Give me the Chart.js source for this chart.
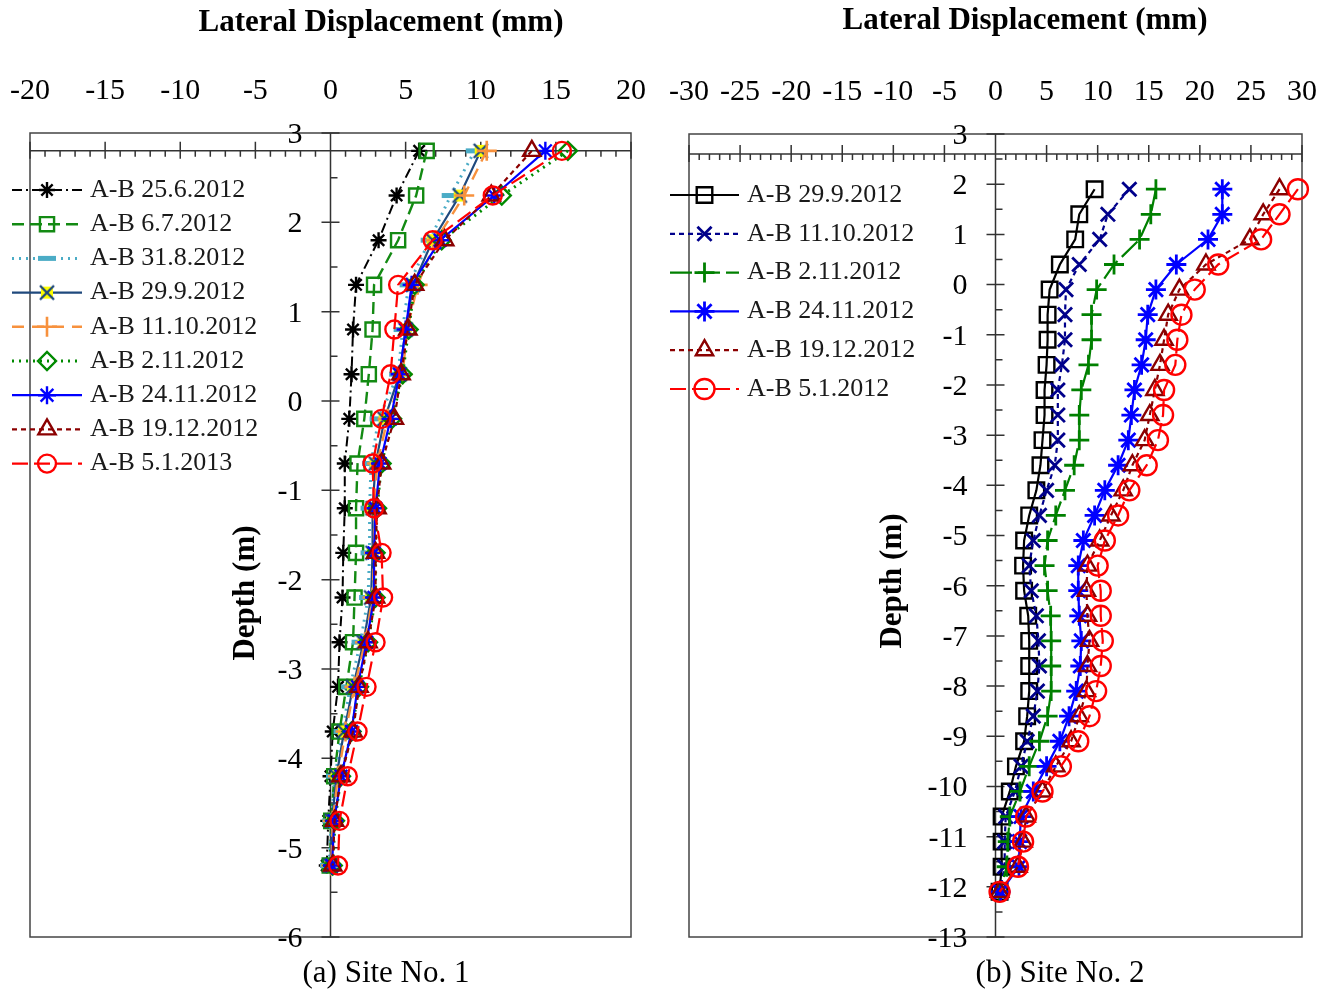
<!DOCTYPE html>
<html>
<head>
<meta charset="utf-8">
<title>Lateral Displacement</title>
<script src="https://cdn.jsdelivr.net/npm/chart.js@4.4.1/dist/chart.umd.min.js"></script>
<style>
    body { margin: 0; background: #fff; }
    #site1 { position: absolute; left: 0; top: 0; }
    #site2 { position: absolute; left: 660px; top: 0; }
</style>
</head>
<body>
<canvas id="site1" width="660" height="991"></canvas>
<canvas id="site2" width="675" height="991"></canvas>
<script>
// Site No. 1 - depth (m) of each reading
const depths1 = [2.8, 2.3, 1.8, 1.3, 0.8, 0.3, -0.2, -0.7, -1.2, -1.7, -2.2, -2.7, -3.2, -3.7, -4.2, -4.7, -5.2];
const labels1 = ['A-B 25.6.2012', 'A-B 6.7.2012', 'A-B 31.8.2012', 'A-B 29.9.2012', 'A-B 11.10.2012',
                 'A-B 2.11.2012', 'A-B 24.11.2012', 'A-B 19.12.2012', 'A-B 5.1.2013'];
// lateral displacement (mm)
const s1_25jun = [5.9, 4.4, 3.2, 1.7, 1.5, 1.4, 1.25, 0.95, 0.95, 0.85, 0.8, 0.6, 0.5, 0.15, 0.0, -0.15, -0.25];
const s1_6jul  = [6.4, 5.7, 4.5, 2.9, 2.8, 2.55, 2.25, 1.8, 1.7, 1.7, 1.6, 1.5, 1.05, 0.6, 0.25, 0.05, -0.05];
const s1_31aug = [9.6, 8.0, 6.6, 5.2, 4.8, 4.5, 3.2, 2.7, 2.6, 2.6, 2.5, 2.0, 1.3, 0.8, 0.3, 0.05, -0.1];
const s1_29sep = [10.0, 8.6, 6.8, 5.5, 5.0, 4.6, 3.6, 3.0, 2.8, 2.8, 2.7, 2.2, 1.5, 0.9, 0.4, 0.1, 0.0];
const s1_11oct = [10.4, 8.9, 7.0, 5.8, 5.1, 4.8, 3.8, 3.1, 2.9, 2.9, 2.8, 2.3, 1.6, 1.0, 0.5, 0.15, 0.05];
const s1_2nov  = [15.8, 11.4, 7.4, 5.6, 5.2, 4.8, 4.1, 3.4, 3.1, 3.0, 3.0, 2.5, 1.9, 1.4, 0.7, 0.3, 0.15];
const s1_24nov = [14.3, 10.9, 7.3, 5.4, 5.0, 4.6, 4.0, 3.3, 3.0, 2.9, 2.9, 2.4, 1.8, 1.4, 0.7, 0.25, 0.1];
const s1_19dec = [13.4, 10.7, 7.6, 5.6, 5.15, 4.7, 4.25, 3.4, 3.1, 3.0, 3.0, 2.5, 1.9, 1.5, 0.7, 0.27, 0.15];
const s1_5jan  = [15.4, 10.8, 6.8, 4.5, 4.25, 4.0, 3.4, 2.8, 2.9, 3.4, 3.5, 3.0, 2.4, 1.8, 1.15, 0.6, 0.5];

// Site No. 2
const depths2 = [1.9, 1.4, 0.9, 0.4, -0.1, -0.6, -1.1, -1.6, -2.1, -2.6, -3.1, -3.6, -4.1, -4.6, -5.1,
                 -5.6, -6.1, -6.6, -7.1, -7.6, -8.1, -8.6, -9.1, -9.6, -10.1, -10.6, -11.1, -11.6, -12.1];
const labels2 = ['A-B 29.9.2012', 'A-B 11.10.2012', 'A-B 2.11.2012', 'A-B 24.11.2012', 'A-B 19.12.2012', 'A-B 5.1.2012'];
const s2_29sep = [9.7, 8.2, 7.8, 6.3, 5.3, 5.1, 5.1, 5.0, 4.8, 4.8, 4.6, 4.4, 4.0, 3.3, 2.8,
                  2.7, 2.8, 3.2, 3.3, 3.3, 3.3, 3.1, 2.8, 2.0, 1.4, 0.6, 0.6, 0.6, 0.4];
const s2_11oct = [13.1, 11.0, 10.2, 8.2, 6.9, 6.8, 6.8, 6.5, 6.1, 6.1, 6.1, 5.8, 5.0, 4.3, 3.7,
                  3.3, 3.5, 4.0, 4.2, 4.3, 4.1, 3.7, 3.1, 2.5, 1.9, 1.0, 0.9, 0.9, 0.4];
const s2_2nov  = [15.7, 15.2, 14.1, 11.6, 9.9, 9.4, 9.4, 9.1, 8.4, 8.2, 8.2, 7.7, 6.8, 5.9, 5.1,
                  4.8, 5.1, 5.4, 5.45, 5.45, 5.45, 5.1, 4.3, 3.3, 2.4, 1.4, 1.2, 1.1, 0.4];
const s2_24nov = [22.2, 22.2, 20.8, 17.7, 15.7, 14.9, 14.7, 14.3, 13.6, 13.3, 13.0, 12.0, 10.7, 9.7, 8.6,
                  8.1, 8.1, 8.2, 8.4, 8.3, 7.9, 7.2, 6.3, 5.0, 3.7, 2.5, 2.35, 2.3, 0.5];
const s2_19dec = [27.8, 26.2, 24.9, 20.6, 18.0, 16.9, 16.5, 16.1, 15.6, 15.1, 14.6, 13.4, 12.5, 11.3, 10.2,
                  9.0, 8.9, 9.0, 9.2, 9.0, 8.9, 8.2, 7.4, 5.9, 4.6, 3.0, 2.7, 2.2, 0.4];
const s2_5jan  = [29.6, 27.8, 26.0, 21.8, 19.5, 18.2, 17.8, 17.6, 16.5, 16.4, 15.9, 14.8, 13.1, 12.0, 10.7,
                  10.0, 10.3, 10.3, 10.5, 10.3, 9.85, 9.2, 8.1, 6.4, 4.6, 3.0, 2.7, 2.2, 0.4];

const serif = "'Liberation Serif', 'Times New Roman', serif";
Chart.defaults.font.family = serif;
Chart.defaults.color = '#000';

// yellow box with a navy X, used as a point style
function yellowCross() {
    const c = document.createElement('canvas');
    c.width = 20; c.height = 20;
    const g = c.getContext('2d');
    g.fillStyle = '#ffff00';
    g.fillRect(4, 4, 12, 12);
    g.strokeStyle = '#1f497d';
    g.lineWidth = 2.4;
    g.beginPath();
    g.moveTo(3, 3); g.lineTo(17, 17);
    g.moveTo(17, 3); g.lineTo(3, 17);
    g.stroke();
    return c;
}

function series(label, values, depths, color, dash, width, style, radius, pw, idx, n) {
    return {
        label: label,
        data: values.map((v, i) => ({ x: v, y: depths[i] })),
        borderColor: color,
        borderWidth: width,
        borderDash: dash,
        pointStyle: style,
        pointRadius: radius,
        pointHoverRadius: radius,
        pointBorderColor: color,
        pointBackgroundColor: 'transparent',
        pointBorderWidth: pw,
        tension: 0,
        clip: false,
        order: n - idx
    };
}

// frame, axis ticks, depth labels, legend and texts
function decor(cfg) {
    return {
        id: 'decor',
        beforeDatasetsDraw(chart) {
            const ctx = chart.ctx;
            const a = chart.chartArea;
            const xs = chart.scales.x, ys = chart.scales.y;
            const y0 = ys.getPixelForValue(cfg.axisAt);
            const x0 = xs.getPixelForValue(0);
            ctx.save();
            ctx.strokeStyle = '#444';
            ctx.lineWidth = 1.5;
            ctx.strokeRect(a.left, a.top, a.right - a.left, a.bottom - a.top);
            ctx.strokeStyle = '#333';
            ctx.beginPath();
            ctx.moveTo(a.left, y0); ctx.lineTo(a.right, y0);
            ctx.moveTo(x0, a.top); ctx.lineTo(x0, a.bottom);
            for (let v = xs.min; v <= xs.max; v += 1) {
                const px = xs.getPixelForValue(v);
                if (v % 5 === 0) { ctx.moveTo(px, y0 - 9); ctx.lineTo(px, y0 + 8); }
                else { ctx.moveTo(px, y0); ctx.lineTo(px, y0 + 6); }
            }
            for (let v = ys.min; v <= ys.max; v += 0.5) {
                const py = ys.getPixelForValue(v);
                if (v % 1 === 0) { ctx.moveTo(x0 - 9, py); ctx.lineTo(x0 + 9, py); }
                else { ctx.moveTo(x0, py); ctx.lineTo(x0 + 7, py); }
            }
            ctx.stroke();

            // depth tick labels, right aligned left of the x = 0 axis
            ctx.fillStyle = '#000';
            ctx.font = '30px ' + serif;
            ctx.textAlign = 'right';
            ctx.textBaseline = 'middle';
            ys.ticks.forEach(t => {
                ctx.fillText(String(t.value), x0 - 28, ys.getPixelForValue(t.value) + 2);
            });
            ctx.restore();
        },
        afterDraw(chart) {
            const ctx = chart.ctx;
            const lg = cfg.legend;
            ctx.save();
            ctx.textBaseline = 'middle';
            chart.data.datasets.forEach((ds, i) => {
                const ly = lg.y + i * lg.step;
                ctx.save();
                ctx.strokeStyle = ds.borderColor;
                ctx.lineWidth = ds.borderWidth;
                ctx.setLineDash(ds.borderDash || []);
                ctx.beginPath();
                ctx.moveTo(lg.x0, ly); ctx.lineTo(lg.x1, ly);
                ctx.stroke();
                ctx.setLineDash([]);
                ctx.strokeStyle = ds.pointBorderColor;
                ctx.fillStyle = ds.pointBackgroundColor;
                ctx.lineWidth = ds.pointBorderWidth;
                Chart.helpers.drawPoint(ctx, {
                    pointStyle: ds.pointStyle, radius: ds.pointRadius,
                    rotation: 0, borderWidth: ds.pointBorderWidth
                }, (lg.x0 + lg.x1) / 2, ly);
                ctx.restore();
                ctx.fillStyle = '#1a1a1a';
                ctx.font = '26px ' + serif;
                ctx.textAlign = 'left';
                ctx.fillText(ds.label, lg.tx, ly);
            });

            ctx.fillStyle = '#000';
            ctx.textAlign = 'center';
            ctx.font = 'bold 31px ' + serif;
            ctx.fillText('Lateral Displacement (mm)', cfg.title[0], cfg.title[1]);
            ctx.font = '31px ' + serif;
            ctx.fillText(cfg.caption, cfg.capPos[0], cfg.capPos[1]);
            ctx.translate(cfg.yTitle[0], cfg.yTitle[1]);
            ctx.rotate(-Math.PI / 2);
            ctx.font = 'bold 31px ' + serif;
            ctx.fillText('Depth (m)', 0, 0);
            ctx.restore();
        }
    };
}

function scalesFor(xmin, xmax, ymin, ymax, top) {
    return {
        x: {
            type: 'linear', position: 'top', min: xmin, max: xmax,
            afterFit: s => { s.height = top; },
            ticks: { stepSize: 5, autoSkip: false, maxRotation: 0, padding: 0, color: '#000',
                     font: { size: 30, family: serif } },
            grid: { drawOnChartArea: false, drawTicks: true, tickLength: 24, tickColor: 'rgba(0,0,0,0)' },
            border: { display: false }
        },
        y: {
            type: 'linear', position: { x: 0 }, min: ymin, max: ymax,
            ticks: { stepSize: 1, display: false },
            grid: { drawOnChartArea: false, drawTicks: false },
            border: { display: false }
        }
    };
}

const baseOptions = {
    responsive: false,
    animation: false,
    events: [],
    plugins: { legend: { display: false }, tooltip: { enabled: false } }
};

// Site No. 1 chart
const n1 = labels1.length;
new Chart(document.getElementById('site1'), {
    type: 'line',
    data: {
        datasets: [
            series(labels1[0], s1_25jun, depths1, '#000000', [10, 4, 2, 4], 2, 'star', 8, 2.4, 0, n1),
            series(labels1[1], s1_6jul, depths1, '#138a13', [12, 6], 2.4, 'rect', 10, 2.4, 1, n1),
            series(labels1[2], s1_31aug, depths1, '#4bacc6', [2, 5], 3, 'line', 9, 5, 2, n1),
            series(labels1[3], s1_29sep, depths1, '#1f497d', [], 2.2, yellowCross(), 9, 2, 3, n1),
            series(labels1[4], s1_11oct, depths1, '#f7913d', [12, 8], 2.4, 'cross', 10, 2.6, 4, n1),
            series(labels1[5], s1_2nov, depths1, '#008a00', [2, 5], 3, 'rectRot', 9, 2.4, 5, n1),
            series(labels1[6], s1_24nov, depths1, '#0000ff', [], 2.2, 'star', 9, 2.4, 6, n1),
            series(labels1[7], s1_19dec, depths1, '#8b0000', [5, 4], 2.2, 'triangle', 10, 2.4, 7, n1),
            series(labels1[8], s1_5jan, depths1, '#ff0000', [16, 6], 2.2, 'circle', 9, 2.4, 8, n1)
        ]
    },
    options: Object.assign({}, baseOptions, {
        layout: { padding: { left: 30, right: 29, top: 0, bottom: 54 } },
        scales: scalesFor(-20, 20, -6, 3, 133)
    }),
    plugins: [decor({
        axisAt: 2.8,
        legend: { x0: 12, x1: 82, tx: 90, y: 190, step: 34.2 },
        title: [381, 23], caption: '(a) Site No. 1', capPos: [386, 974], yTitle: [246, 593]
    })]
});

// Site No. 2 chart
const n2 = labels2.length;
new Chart(document.getElementById('site2'), {
    type: 'line',
    data: {
        datasets: [
            series(labels2[0], s2_29sep, depths2, '#000000', [], 2.2, 'rect', 11, 2.4, 0, n2),
            series(labels2[1], s2_11oct, depths2, '#00008b', [5, 4], 2.2, 'crossRot', 10, 2.8, 1, n2),
            series(labels2[2], s2_2nov, depths2, '#008000', [22, 6], 2.2, 'cross', 10, 2.8, 2, n2),
            series(labels2[3], s2_24nov, depths2, '#0000ff', [], 2.2, 'star', 10, 2.8, 3, n2),
            series(labels2[4], s2_19dec, depths2, '#8b0000', [5, 4], 2.2, 'triangle', 10, 2.4, 4, n2),
            series(labels2[5], s2_5jan, depths2, '#ff0000', [16, 6], 2.2, 'circle', 10, 2.4, 5, n2)
        ]
    },
    options: Object.assign({}, baseOptions, {
        layout: { padding: { left: 29, right: 33, top: 0, bottom: 54 } },
        scales: scalesFor(-30, 30, -13, 3, 134)
    }),
    plugins: [decor({
        axisAt: 2.6,
        legend: { x0: 10, x1: 79, tx: 87, y: 195, step: 38.8 },
        title: [365, 21], caption: '(b) Site No. 2', capPos: [400, 974], yTitle: [233, 581]
    })]
});
</script>
</body>
</html>
